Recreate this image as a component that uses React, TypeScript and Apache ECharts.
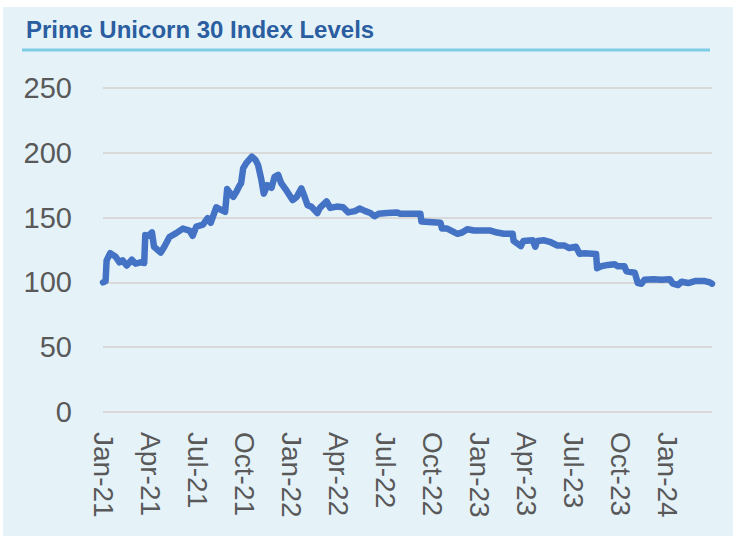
import React, { useEffect, useRef } from "react";
import * as echarts from "echarts";

const chartTitle = "Prime Unicorn 30 Index Levels";

const dates = [
  "2021-01-01", "2021-01-06", "2021-01-08", "2021-01-15", "2021-01-25", "2021-02-02", "2021-02-08", "2021-02-16",
  "2021-02-26", "2021-03-05", "2021-03-15", "2021-03-22", "2021-03-24", "2021-03-30", "2021-04-06", "2021-04-10",
  "2021-04-23", "2021-04-30", "2021-05-10", "2021-05-23", "2021-06-05", "2021-06-18", "2021-06-24", "2021-07-01",
  "2021-07-14", "2021-07-23", "2021-07-29", "2021-08-09", "2021-08-18", "2021-08-26", "2021-08-30", "2021-09-07",
  "2021-09-11", "2021-09-17", "2021-09-22", "2021-09-26", "2021-09-30", "2021-10-06", "2021-10-17", "2021-10-24",
  "2021-10-29", "2021-11-04", "2021-11-09", "2021-11-16", "2021-11-24", "2021-11-30", "2021-12-07", "2021-12-13",
  "2021-12-23", "2022-01-04", "2022-01-12", "2022-01-21", "2022-01-26", "2022-02-02", "2022-02-09", "2022-02-21",
  "2022-02-26", "2022-03-11", "2022-03-18", "2022-03-31", "2022-04-12", "2022-04-22", "2022-05-05", "2022-05-14",
  "2022-05-25", "2022-06-04", "2022-06-12", "2022-06-20", "2022-07-06", "2022-07-26", "2022-08-01", "2022-09-09",
  "2022-09-11", "2022-10-18", "2022-10-21", "2022-10-31", "2022-11-20", "2022-11-29", "2022-12-09", "2022-12-22",
  "2023-01-23", "2023-02-05", "2023-02-18", "2023-03-07", "2023-03-09", "2023-03-23", "2023-03-28", "2023-04-15",
  "2023-04-20", "2023-04-24", "2023-05-07", "2023-05-20", "2023-06-02", "2023-06-15", "2023-06-25", "2023-07-08",
  "2023-07-15", "2023-07-24", "2023-08-16", "2023-08-18", "2023-08-26", "2023-09-08", "2023-09-21", "2023-09-27",
  "2023-10-10", "2023-10-14", "2023-10-30", "2023-11-05", "2023-11-12", "2023-11-18", "2023-12-05", "2023-12-21",
  "2024-01-06", "2024-01-12", "2024-01-22", "2024-01-29", "2024-02-11", "2024-02-24", "2024-03-14", "2024-03-24",
  "2024-03-28",
];

const indexLevels = [
  100, 101, 117, 122.5, 120, 115.5, 117, 113,
  117.5, 114.5, 115.5, 115, 136.5, 136, 138.5, 127.5,
  123, 127.5, 135, 138, 141.5, 140, 136, 143,
  144.5, 149.5, 146, 158, 156, 154.5, 172, 167.5,
  166, 170, 174, 176.5, 188, 192, 197, 194.5,
  190.5, 180, 168.5, 175, 173, 181.5, 183, 176.5,
  171, 163.5, 166, 172.5, 167.5, 159.5, 158.5, 153.5,
  157.5, 162.5, 157.5, 158.5, 158, 154, 155, 157,
  155, 153.5, 151, 153, 153.5, 154, 153, 153,
  147, 146, 141.5, 141.5, 137.5, 138.5, 141, 140,
  140, 138.5, 137.5, 137.5, 132, 128, 132, 132.5,
  127.5, 132, 132.5, 131, 128.5, 128.5, 126.5, 127.5,
  122, 122.5, 122, 111, 112.5, 113.5, 114, 112.5,
  112.5, 108.5, 107.5, 99.5, 99, 102, 102.5, 102,
  102.5, 99, 98, 100.5, 99.5, 101, 101, 100,
  99,
];

const xTickLabels = [
  "Jan-21", "Apr-21", "Jul-21", "Oct-21", "Jan-22", "Apr-22", "Jul-22",
  "Oct-22", "Jan-23", "Apr-23", "Jul-23", "Oct-23", "Jan-24",
];

const yMin = 0;
const yMax = 250;
const yStep = 50;

const START = Date.UTC(2021, 0, 1);
const DAY_MS = 86400000;
const QUARTER_DAYS = 365.25 / 4;

function dayOffset(s: string): number {
  const [y, m, d] = s.split("-").map(Number);
  return Math.round((Date.UTC(y, m - 1, d) - START) / DAY_MS);
}

export default function App() {
  const ref = useRef<HTMLDivElement>(null);

  useEffect(() => {
    if (!ref.current) return;
    const chart = echarts.init(ref.current, null, { renderer: "svg" });
    const points = dates.map((d, i) => [dayOffset(d), indexLevels[i]]);
    const lastDay = dayOffset(dates[dates.length - 1]);

    chart.setOption({
      animation: false,
      backgroundColor: "transparent",
      textStyle: { fontFamily: "Liberation Sans, Arial, sans-serif" },
      graphic: [
        {
          type: "text",
          left: 26,
          top: 17,
          style: {
            text: chartTitle,
            fill: "#2B5EA0",
            fontSize: 24,
            fontWeight: "bold",
            fontFamily: "Liberation Sans, Arial, sans-serif",
          },
        },
        {
          type: "line",
          shape: { x1: 22, y1: 50, x2: 710, y2: 50 },
          style: { stroke: "#7FCCE6", lineWidth: 3 },
        },
      ],
      grid: { left: 103, right: 21, top: 88, bottom: 124, containLabel: false },
      xAxis: {
        type: "value",
        min: 0,
        max: lastDay,
        interval: QUARTER_DAYS,
        axisLine: { show: false },
        axisTick: { show: false },
        splitLine: { show: false },
        axisLabel: {
          rotate: -90,
          margin: 20,
          fontSize: 28,
          color: "#595959",
          showMaxLabel: false,
          formatter: (v: number) => {
            const idx = Math.round(v / QUARTER_DAYS);
            if (Math.abs(v - idx * QUARTER_DAYS) > 1) return "";
            return xTickLabels[idx] ?? "";
          },
        },
      },
      yAxis: {
        type: "value",
        min: yMin,
        max: yMax,
        interval: yStep,
        axisLine: { show: false },
        axisTick: { show: false },
        axisLabel: { fontSize: 29, color: "#595959", margin: 31 },
        splitLine: { lineStyle: { color: "#D9D9D9", width: 2 } },
      },
      series: [
        {
          type: "line",
          data: points,
          showSymbol: false,
          symbol: "none",
          lineStyle: { color: "#4472C4", width: 6.5, cap: "round", join: "round" },
        },
      ],
    });

    return () => chart.dispose();
  }, []);

  return (
    <div style={{ position: "fixed", left: 0, top: 0, width: 733, height: 536, background: "#ffffff" }}>
      <div style={{ position: "absolute", left: 3, top: 7, width: 730, height: 529, background: "#E5F3F9" }} />
      <div ref={ref} style={{ position: "absolute", left: 0, top: 0, width: 733, height: 536 }} />
    </div>
  );
}
